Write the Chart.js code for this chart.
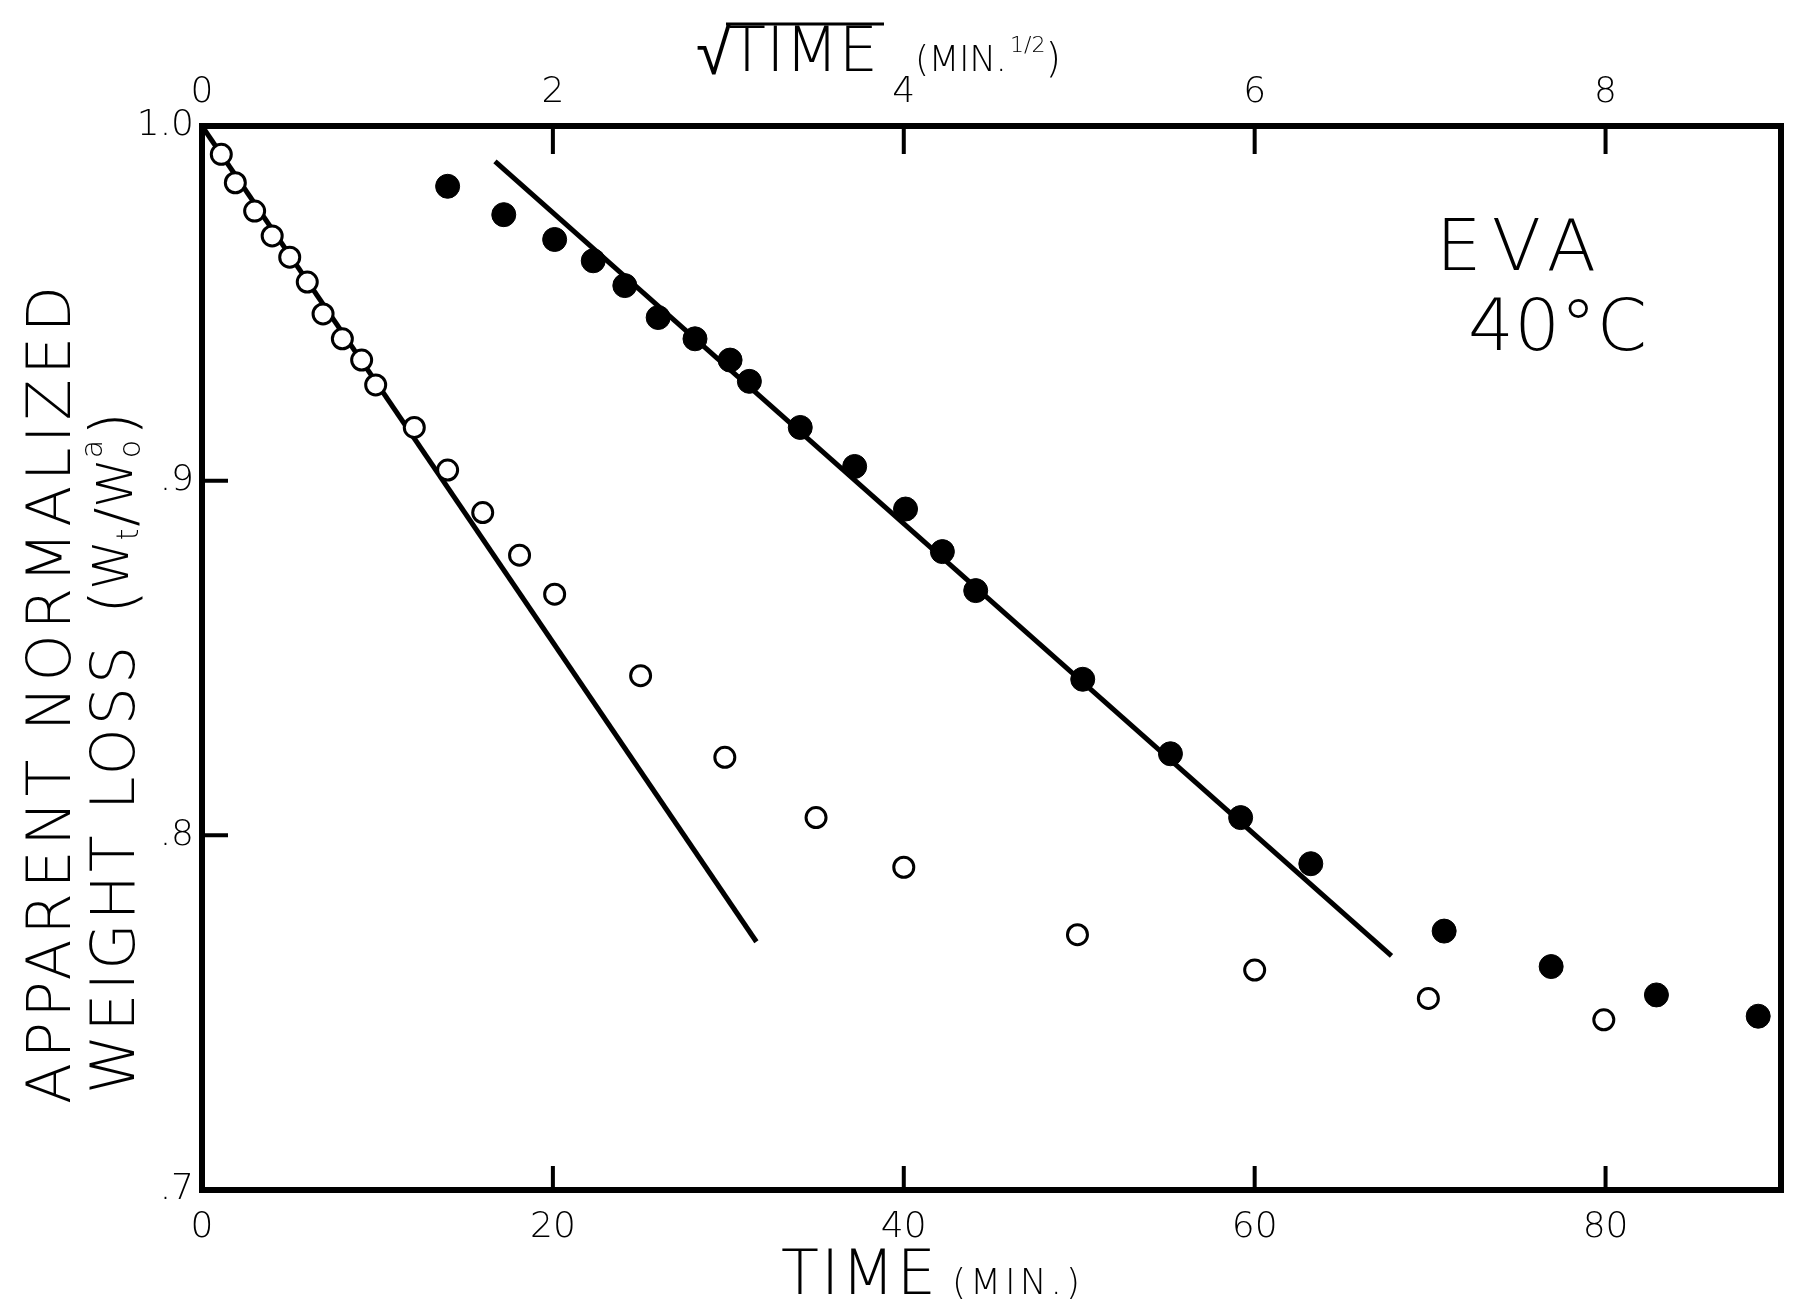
<!DOCTYPE html>
<html>
<head>
<meta charset="utf-8">
<script src="https://cdn.jsdelivr.net/npm/chart.js@4.4.1/dist/chart.umd.min.js"></script>
<style>
  html, body { margin: 0; padding: 0; background: #fff; }
  canvas { display: block; }
</style>
</head>
<body>
<canvas id="grafico" width="1794" height="1309"></canvas>
<script>
// datos (EVA 40 C)
const tiempoAbiertos = [1.1, 1.9, 3.0, 4.0, 5.0, 6.0, 6.9, 8.0, 9.1, 9.9, 12.1, 14.0, 16.0, 18.1, 20.1, 25.0, 29.8, 35.0, 40.0, 49.9, 60.0, 69.9, 79.9];
const pesoAbiertos = [0.992, 0.984, 0.976, 0.969, 0.963, 0.956, 0.947, 0.940, 0.934, 0.927, 0.915, 0.903, 0.891, 0.879, 0.868, 0.845, 0.822, 0.805, 0.791, 0.772, 0.762, 0.754, 0.748];

const raizLlenos = [1.40, 1.72, 2.01, 2.23, 2.41, 2.60, 2.81, 3.01, 3.12, 3.41, 3.72, 4.01, 4.22, 4.41, 5.02, 5.52, 5.92, 6.32, 7.08, 7.69, 8.29, 8.87];
const pesoLlenos = [0.983, 0.975, 0.968, 0.962, 0.955, 0.946, 0.940, 0.934, 0.928, 0.915, 0.904, 0.892, 0.880, 0.869, 0.844, 0.823, 0.805, 0.792, 0.773, 0.763, 0.755, 0.749];

// rectas dibujadas a mano (extremos)
const rectaTiempoX = [0, 31.6];
const rectaTiempoY = [1.0, 0.770];
const rectaRaizX = [1.67, 6.78];
const rectaRaizY = [0.990, 0.766];

const ticksTiempo = [0, 20, 40, 60, 80];
const ticksRaiz = [0, 2, 4, 6, 8];
const ticksPeso = [0.7, 0.8, 0.9, 1.0];
const etiquetasPeso = ['.7', '.8', '.9', '1.0'];

const FUENTE = '"DejaVu Sans", sans-serif';

function puntos(xs, ys) {
    return xs.map((x, i) => ({ x: x, y: ys[i] }));
}

// texto con espaciado para llegar a un ancho dado
function textoAncho(ctx, texto, x, y, ancho) {
    ctx.letterSpacing = '0px';
    const w = ctx.measureText(texto).width;
    const esp = (ancho - w) / Math.max(texto.length - 1, 1);
    ctx.letterSpacing = esp + 'px';
    ctx.fillText(texto, x, y);
    ctx.letterSpacing = '0px';
}

// trozos de texto seguidos (subindices, superindices)
function tramos(ctx, partes, x, y) {
    let cx = x;
    partes.forEach(p => {
        ctx.font = '200 ' + p.tam + 'px ' + FUENTE;
        ctx.letterSpacing = '0px';
        ctx.fillText(p.t, cx, y + (p.dy || 0));
        if (!p.quieto) cx += ctx.measureText(p.t).width + (p.sep || 0);
    });
}

const manoAlzada = {
    id: 'manoAlzada',
    afterDatasetsDraw(chart) {
        const ctx = chart.ctx;
        const a = chart.chartArea;
        const sx = chart.scales.x, sx2 = chart.scales.x2, sy = chart.scales.y;
        ctx.save();
        ctx.strokeStyle = '#000';
        ctx.lineCap = 'square';
        ctx.lineWidth = 6;
        ctx.strokeRect(a.left, a.top, a.right - a.left, a.bottom - a.top);

        // marcas hacia dentro
        ctx.lineWidth = 4;
        ctx.beginPath();
        ticksTiempo.filter(v => v > sx.min && v < sx.max).forEach(v => {
            const px = sx.getPixelForValue(v);
            ctx.moveTo(px, a.bottom);
            ctx.lineTo(px, a.bottom - 22);
        });
        ticksRaiz.filter(v => v > sx2.min && v < sx2.max).forEach(v => {
            const px = sx2.getPixelForValue(v);
            ctx.moveTo(px, a.top);
            ctx.lineTo(px, a.top + 26);
        });
        ticksPeso.filter(v => v > sy.min && v < sy.max).forEach(v => {
            const py = sy.getPixelForValue(v);
            ctx.moveTo(a.left, py);
            ctx.lineTo(a.left + 24, py);
        });
        ctx.stroke();
        ctx.restore();
    },
    afterDraw(chart) {
        const ctx = chart.ctx;
        ctx.save();
        ctx.fillStyle = '#000';
        ctx.strokeStyle = '#000';
        ctx.textBaseline = 'alphabetic';
        ctx.textAlign = 'left';

        // titulo superior
        ctx.font = '64px "Liberation Sans", sans-serif';
        ctx.fillText('\u221A', 696, 74);
        ctx.font = '200 62px ' + FUENTE;
        textoAncho(ctx, 'TIME', 728, 71, 150);
        ctx.lineWidth = 3;
        ctx.beginPath();
        ctx.moveTo(726, 24);
        ctx.lineTo(884, 24);
        ctx.stroke();
        ctx.font = '200 36px ' + FUENTE;
        textoAncho(ctx, '(MIN.', 915, 71, 92);
        tramos(ctx, [
            { t: '1/2', tam: 22, dy: -20 },
            { t: ')', tam: 40 }
        ], 1010, 72);

        // titulo inferior
        ctx.font = '200 62px ' + FUENTE;
        textoAncho(ctx, 'TIME', 781, 1294, 155);
        ctx.font = '200 36px ' + FUENTE;
        textoAncho(ctx, '(MIN.)', 952, 1294, 128);

        // titulo del eje y (dos lineas giradas)
        ctx.save();
        ctx.translate(70, 1104);
        ctx.rotate(-Math.PI / 2);
        ctx.font = '200 60px ' + FUENTE;
        textoAncho(ctx, 'APPARENT NORMALIZED', 0, 0, 818);
        ctx.restore();
        ctx.save();
        ctx.translate(134, 1094);
        ctx.rotate(-Math.PI / 2);
        ctx.font = '200 60px ' + FUENTE;
        textoAncho(ctx, 'WEIGHT LOSS', 0, 0, 448);
        tramos(ctx, [
            { t: '(', tam: 62 },
            { t: 'W', tam: 50, dy: -6 },
            { t: 't', tam: 30, dy: 4, sep: 2 },
            { t: '/', tam: 56 },
            { t: 'W', tam: 50, dy: -2 },
            { t: 'a', tam: 30, dy: -32, quieto: true },
            { t: 'o', tam: 30, dy: 6, sep: 4 },
            { t: ')', tam: 62 }
        ], 480, 0);
        ctx.restore();

        // rotulo dentro del grafico
        ctx.font = '200 72px ' + FUENTE;
        textoAncho(ctx, 'EVA', 1436, 270, 160);
        textoAncho(ctx, '40\u00B0C', 1468, 350, 179);
        ctx.restore();
    }
};

const ctx = document.getElementById('grafico').getContext('2d');

const fuenteTicks = { family: FUENTE, size: 36, weight: 200 };

const grafico = new Chart(ctx, {
    type: 'scatter',
    data: {
        datasets: [
            {
                label: 'tiempo',
                data: puntos(tiempoAbiertos, pesoAbiertos),
                xAxisID: 'x',
                pointStyle: 'circle',
                pointRadius: 10,
                pointBackgroundColor: '#fff',
                pointBorderColor: '#000',
                pointBorderWidth: 3
            },
            {
                label: 'raiz del tiempo',
                data: puntos(raizLlenos, pesoLlenos),
                xAxisID: 'x2',
                pointStyle: 'circle',
                pointRadius: 12,
                pointBackgroundColor: '#000',
                pointBorderColor: '#000',
                pointBorderWidth: 1
            },
            {
                label: 'recta tiempo',
                data: puntos(rectaTiempoX, rectaTiempoY),
                xAxisID: 'x',
                showLine: true,
                pointRadius: 0,
                borderColor: '#000',
                borderWidth: 5
            },
            {
                label: 'recta raiz',
                data: puntos(rectaRaizX, rectaRaizY),
                xAxisID: 'x2',
                showLine: true,
                pointRadius: 0,
                borderColor: '#000',
                borderWidth: 5
            }
        ]
    },
    options: {
        responsive: false,
        animation: false,
        devicePixelRatio: 1,
        layout: { padding: { left: 0, right: 8, top: 0, bottom: 0 } },
        plugins: {
            legend: { display: false },
            tooltip: { enabled: false }
        },
        scales: {
            x: {
                type: 'linear',
                position: 'bottom',
                min: 0,
                max: 90,
                afterBuildTicks: s => { s.ticks = ticksTiempo.map(v => ({ value: v })); },
                afterFit: s => { s.height = 119; },
                grid: { display: false, drawTicks: false },
                border: { display: false },
                ticks: { autoSkip: false, maxRotation: 0, padding: 16, color: '#000', font: fuenteTicks }
            },
            x2: {
                type: 'linear',
                position: 'top',
                min: 0,
                max: 9,
                afterBuildTicks: s => { s.ticks = ticksRaiz.map(v => ({ value: v })); },
                afterFit: s => { s.height = 126; },
                grid: { display: false, drawTicks: false },
                border: { display: false },
                ticks: { autoSkip: false, maxRotation: 0, padding: 12, color: '#000', font: fuenteTicks }
            },
            y: {
                type: 'linear',
                min: 0.7,
                max: 1.0,
                afterBuildTicks: s => { s.ticks = ticksPeso.map(v => ({ value: v })); },
                afterFit: s => { s.width = 202; },
                grid: { display: false, drawTicks: false },
                border: { display: false },
                ticks: {
                    autoSkip: false,
                    padding: 8,
                    color: '#000',
                    font: fuenteTicks,
                    callback: v => etiquetasPeso[ticksPeso.indexOf(v)]
                }
            }
        }
    },
    plugins: [manoAlzada]
});
</script>
</body>
</html>
